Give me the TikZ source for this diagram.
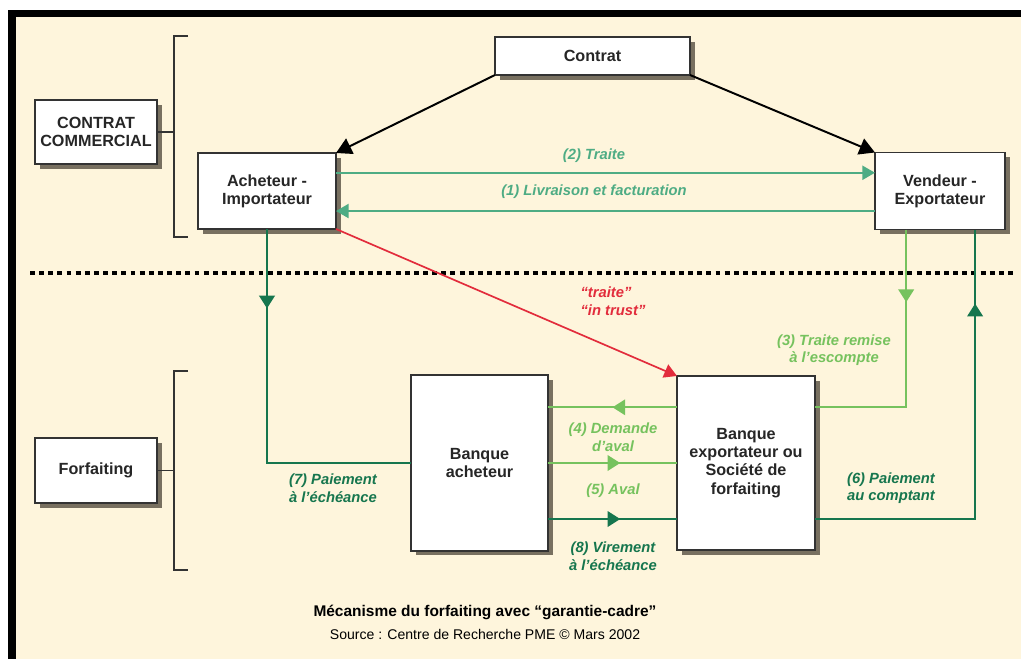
\documentclass[tikz,border=0pt]{standalone}
\usepackage{fontspec}
\setmainfont{Liberation Sans}
\usetikzlibrary{calc}
\usetikzlibrary{arrows.meta}
\usetikzlibrary{decorations.markings}
\usetikzlibrary{shadows}
\definecolor{cream}{RGB}{254,245,220}
\definecolor{midgreen}{RGB}{78,172,132}
\definecolor{darkgreen}{RGB}{22,118,78}
\definecolor{lightgreen}{RGB}{118,194,94}
\definecolor{myred}{RGB}{226,44,60}
\definecolor{shade}{RGB}{120,112,96}
\tikzset{%
    box/.style={inner sep=0pt,outer sep=0pt,shape=rectangle,draw=black!80,line width=1.4pt,fill=white,text=black!85,align=center,font=\fontsize{11.5}{13}\selectfont\bfseries,drop shadow={shadow xshift=3.5pt,shadow yshift=-3.5pt,opacity=1,fill=shade,draw=none}},
    lbl/.style={align=center,font=\fontsize{10.5}{12.5}\selectfont\bfseries\itshape},
    flow/.style={line width=1.5pt},
    tip/.style={-{Triangle[length=9pt,width=10pt]}},
    midarrow/.style={postaction={decorate},decoration={markings,mark=at position #1 with {\arrow{Triangle[length=9pt,width=11pt]}}}},
    bracket/.style={line width=1.3pt,black!80},
}

\begin{document}
\begin{tikzpicture}[x=0.025cm,y=-0.025cm]
        \useasboundingbox (0,0) rectangle (1021,659);
        \fill[white] (0,0) rectangle (1021,659);
        \fill[black] (8,10) rectangle (1021,659);
        \fill[cream] (16,17) rectangle (1021,659);

        \node [box,minimum width=4.875cm,minimum height=0.95cm] (contrat) at (592.5,56) {Contrat};
        \node [box,minimum width=3.05cm,minimum height=1.6cm] (commercial) at (96,132) {CONTRAT\\COMMERCIAL};
        \node [box,minimum width=3.45cm,minimum height=1.9cm] (acheteur) at (267,191) {Acheteur -\\Importateur};
        \node [box,minimum width=3.25cm,minimum height=1.925cm] (vendeur) at (940,191) {Vendeur -\\Exportateur};
        \node [box,minimum width=3.05cm,minimum height=1.625cm] (forfaiting) at (96,470.5) {Forfaiting};
        \node [box,minimum width=3.425cm,minimum height=4.375cm] (banqueach) at (479.5,463) {Banque\\acheteur};
        \node [box,minimum width=3.45cm,minimum height=4.35cm] (banqueexp) at (746,463) {Banque\\exportateur ou\\Société de\\forfaiting};

        % accolades
        \draw[bracket] (188,36) -- (174,36) -- (174,237) -- (188,237);
        \draw[bracket] (commercial.east) -- ++(17,0);
        \draw[bracket] (188,371) -- (174,371) -- (174,570) -- (188,570);
        \draw[bracket] (forfaiting.east) -- ++(17,0);

        \draw[line width=2.2pt,dash pattern=on 3.5pt off 3pt] (30,273) -- (1015,273);

        \draw[line width=1.4pt,-{Triangle[length=11pt,width=12pt]}] (contrat.south west) -- (acheteur.north east);
        \draw[line width=1.4pt,-{Triangle[length=11pt,width=12pt]}] (contrat.south east) -- (vendeur.north west);

        \draw[flow,midgreen,tip] ($(acheteur.north east)!0.26!(acheteur.south east)$) coordinate (t2) -- (t2 -| vendeur.west);
        \draw[flow,midgreen,tip] ($(vendeur.north west)!0.76!(vendeur.south west)$) coordinate (t1) -- (t1 -| acheteur.east);
        \node [lbl,midgreen] (l2) at (594,156) {(2) Traite};
        \node [lbl,midgreen] (l1) at (594,192) {(1) Livraison et facturation};

        \draw[line width=1.2pt,myred,-{Triangle[length=9pt,width=10pt]}] (acheteur.south east) -- (banqueexp.north west);
        \node [lbl,myred,align=left] (trust) at (613,301) {“traite”\\“in trust”};

        \draw[flow,lightgreen,midarrow=0.27] ($(vendeur.south west)!0.24!(vendeur.south east)$) |- ($(banqueexp.north east)!0.18!(banqueexp.south east)$);
        \node [lbl,lightgreen] (l3) at (834,350) {(3) Traite remise\\à l'escompte};

        \draw[flow,lightgreen,midarrow=0.5] ($(banqueexp.north west)!0.18!(banqueexp.south west)$) coordinate (t4) -- (t4 -| banqueach.east);
        \node [lbl,lightgreen] (l4) at (613,437) {(4) Demande\\d'aval};

        \draw[flow,lightgreen,midarrow=0.56] (banqueach.east) -- (banqueexp.west);
        \node [lbl,lightgreen] (l5) at (613,491) {(5) Aval};

        \draw[flow,darkgreen,midarrow=0.56] ($(banqueach.north east)!0.82!(banqueach.south east)$) coordinate (t8) -- (t8 -| banqueexp.west);
        \node [lbl,darkgreen] (l8) at (613,556) {(8) Virement\\à l'échéance};

        \draw[flow,darkgreen,midarrow=0.835] ($(banqueexp.north east)!0.82!(banqueexp.south east)$) -| ($(vendeur.south west)!0.77!(vendeur.south east)$);
        \node [lbl,darkgreen] (l6) at (891,488) {(6) Paiement\\au comptant};

        \draw[flow,darkgreen,midarrow=0.21] (acheteur.south) |- (banqueach.west);
        \node [lbl,darkgreen] (l7) at (333,488) {(7) Paiement\\à l'échéance};

        \node [font=\fontsize{11}{13}\selectfont\bfseries] (titre) at (485,612) {Mécanisme du forfaiting avec “garantie-cadre”};
        \node [font=\fontsize{10}{12}\selectfont] (source) at (485,634) {Source : Centre de Recherche PME © Mars 2002};
\end{tikzpicture}
\end{document}
